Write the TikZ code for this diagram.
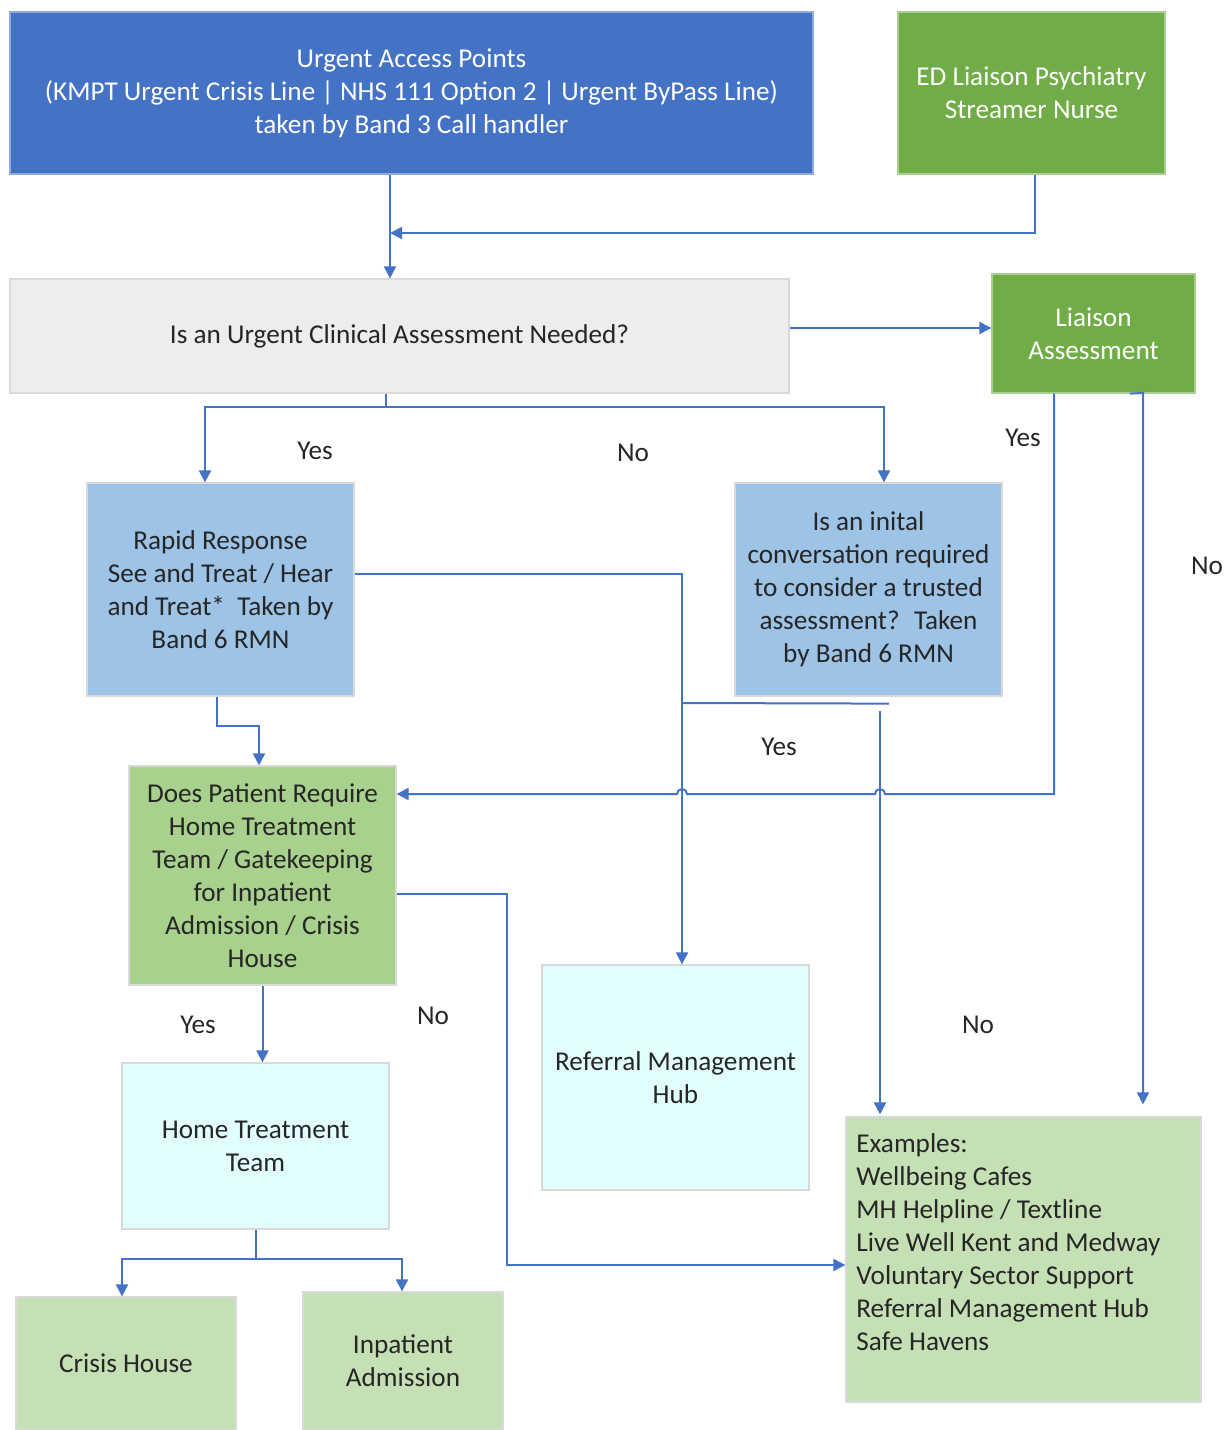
\documentclass[tikz,border=0pt]{standalone}
\usepackage{fontspec}
\setmainfont{Carlito}
\usepackage{xcolor}
\usetikzlibrary{arrows.meta}
\usetikzlibrary{calc}

\definecolor{darkblue}{HTML}{4472C4}
\definecolor{darkgreen}{HTML}{70AD47}
\definecolor{paleblue}{HTML}{9DC3E6}
\definecolor{midgreen}{HTML}{A9D18E}
\definecolor{palegreen}{HTML}{C5E0B4}
\definecolor{palecyan}{HTML}{E2FDFE}
\definecolor{lightgrey}{HTML}{EDEDED}
\definecolor{textgrey}{HTML}{262626}

\begin{document}
\begin{tikzpicture}[x=0.5pt,y=-0.5pt,>={Triangle[length=6pt,width=6pt]},
                    every node/.style={font=\fontsize{13.6}{16.5}\selectfont,text=textgrey},
                    main box/.style={rectangle,align=center,inner sep=0pt,line width=0.6pt,draw=black!15},
                    dark box/.style={main box,fill=#1,draw=#1!60!white,text=white},
                    link/.style={->,draw=darkblue,line width=1pt}]
\useasboundingbox (0,0) rectangle (1229,1430);

\node[dark box=darkblue, minimum width=401.5pt, minimum height=81pt] (access) at (411.5,93)
  {Urgent Access Points\\(KMPT Urgent Crisis Line | NHS 111 Option 2 | Urgent ByPass Line)\\taken by Band 3 Call handler};
\node[dark box=darkgreen, minimum width=133.5pt, minimum height=81pt] (streamer) at (1031.5,93)
  {ED Liaison Psychiatry\\Streamer Nurse};
\node[main box, fill=lightgrey, minimum width=389.5pt, minimum height=57pt] (question) at (399.5,336)
  {Is an Urgent Clinical Assessment Needed?};
\node[dark box=darkgreen, minimum width=101.5pt, minimum height=59.5pt] (liaison) at (1093.5,333.5)
  {Liaison\\Assessment};
\node[main box, fill=paleblue, minimum width=133.5pt, minimum height=106.5pt] (rapid) at (220.5,589.5)
  {Rapid Response\\See and Treat / Hear\\and Treat*~ Taken by\\Band 6 RMN};
\node[main box, fill=paleblue, minimum width=133.5pt, minimum height=106.5pt] (inital) at (868.5,589.5)
  {Is an inital\\conversation required\\to consider a trusted\\assessment?~ Taken\\by Band 6 RMN};
\node[main box, fill=midgreen, minimum width=133.5pt, minimum height=109.5pt] (gatekeep) at (262.5,875.5)
  {Does Patient Require\\Home Treatment\\Team / Gatekeeping\\for Inpatient\\Admission / Crisis\\House};
\node[main box, fill=palecyan, minimum width=133.5pt, minimum height=112.5pt] (hub) at (675.5,1077.5)
  {Referral Management\\Hub};
\node[main box, fill=palecyan, minimum width=133.5pt, minimum height=83pt] (htt) at (255.5,1146)
  {Home Treatment\\Team};
\node[main box, fill=palegreen, minimum width=110pt, minimum height=66.5pt] (crisis) at (126,1363.5)
  {Crisis House};
\node[main box, fill=palegreen, minimum width=100pt, minimum height=69pt] (inpatient) at (403,1361)
  {Inpatient\\Admission};
\node[main box, fill=palegreen, minimum width=177.5pt, minimum height=142.5pt] (examples) at (1023.5,1259.5) {};
\node[anchor=north west, align=left, inner sep=0pt] (exlist) at (856,1133)
  {Examples:\\Wellbeing Cafes\\MH Helpline / Textline\\Live Well Kent and Medway\\Voluntary Sector Support\\Referral Management Hub\\Safe Havens};

\coordinate (trunk) at (390,233);
\coordinate (split) at (386,407);
\coordinate (liaisonbend) at (1054,794);
\coordinate (hopR) at (880,794);
\coordinate (hopL) at (682,794);
\coordinate (nocol) at (1143,393);
\coordinate (yesjoin) at (682,703);
\coordinate (nostart) at ($(inital.south)+(11.5,14)$);
\coordinate (rapidbend) at (217,726);
\coordinate (gkcol) at (507,894);
\coordinate (httjoin) at ($(htt.south)+(0,29)$);

\draw[link] (access.south -| trunk) -- (question.north -| trunk);
\draw[link] ($(streamer.south)+(3.5,0)$) |- (trunk);
\draw[link] ($(question.east |- liaison.west)+(0,-5.5)$) -- ($(liaison.west)+(0,-5.5)$);
\draw[link] (question.south -| split) -- (split) -| ($(rapid.north)+(-15.5,0)$);
\draw[link] (split) -| ($(inital.north)+(15.5,0)$);
\draw[link] (liaison.south -| liaisonbend) -- (liaisonbend)
  -- ($(hopR)+(5,0)$) arc[start angle=0,end angle=180,radius=2.5pt]
  -- ($(hopL)+(5,0)$) arc[start angle=0,end angle=180,radius=2.5pt]
  -- (gatekeep.east |- liaisonbend);
\draw[link] ($(liaison.south)+(36.5,0)$) -- (nocol) -- ($(nocol |- examples.north)+(0,-12)$);
\draw[link] ($(rapid.east)+(0,-15.5)$) -| ($(hub.north)+(6.5,0)$);
\draw[link,-] ($(inital.south)+(20.5,7)$) -- (yesjoin);
\draw[link] (nostart) -- ($(nostart |- examples.north)+(0,-2)$);
\draw[link] (rapid.south -| rapidbend) -- (rapidbend) -| ($(gatekeep.north)+(-3.5,0)$);
\draw[link] (gatekeep.east |- gkcol) -- (gkcol) |- ($(examples.west)+(0,5.5)$);
\draw[link] (gatekeep.south) -- (gatekeep.south |- htt.north);
\draw[link] (htt.south) -- (httjoin) -| ($(crisis.north)+(-4,0)$);
\draw[link] (httjoin) -| ($(inpatient.north)+(-1,0)$);

\node (yesrapid) at (315,451) {Yes};
\node (noquestion) at (633,453) {No};
\node (yesliaison) at (1023,438) {Yes};
\node (noliaison) at (1207,566) {No};
\node (yesinital) at (779,747) {Yes};
\node (noinital) at (978,1025) {No};
\node (yesgatekeep) at (198,1025) {Yes};
\node (nogatekeep) at (433,1016) {No};
\end{tikzpicture}
\end{document}
